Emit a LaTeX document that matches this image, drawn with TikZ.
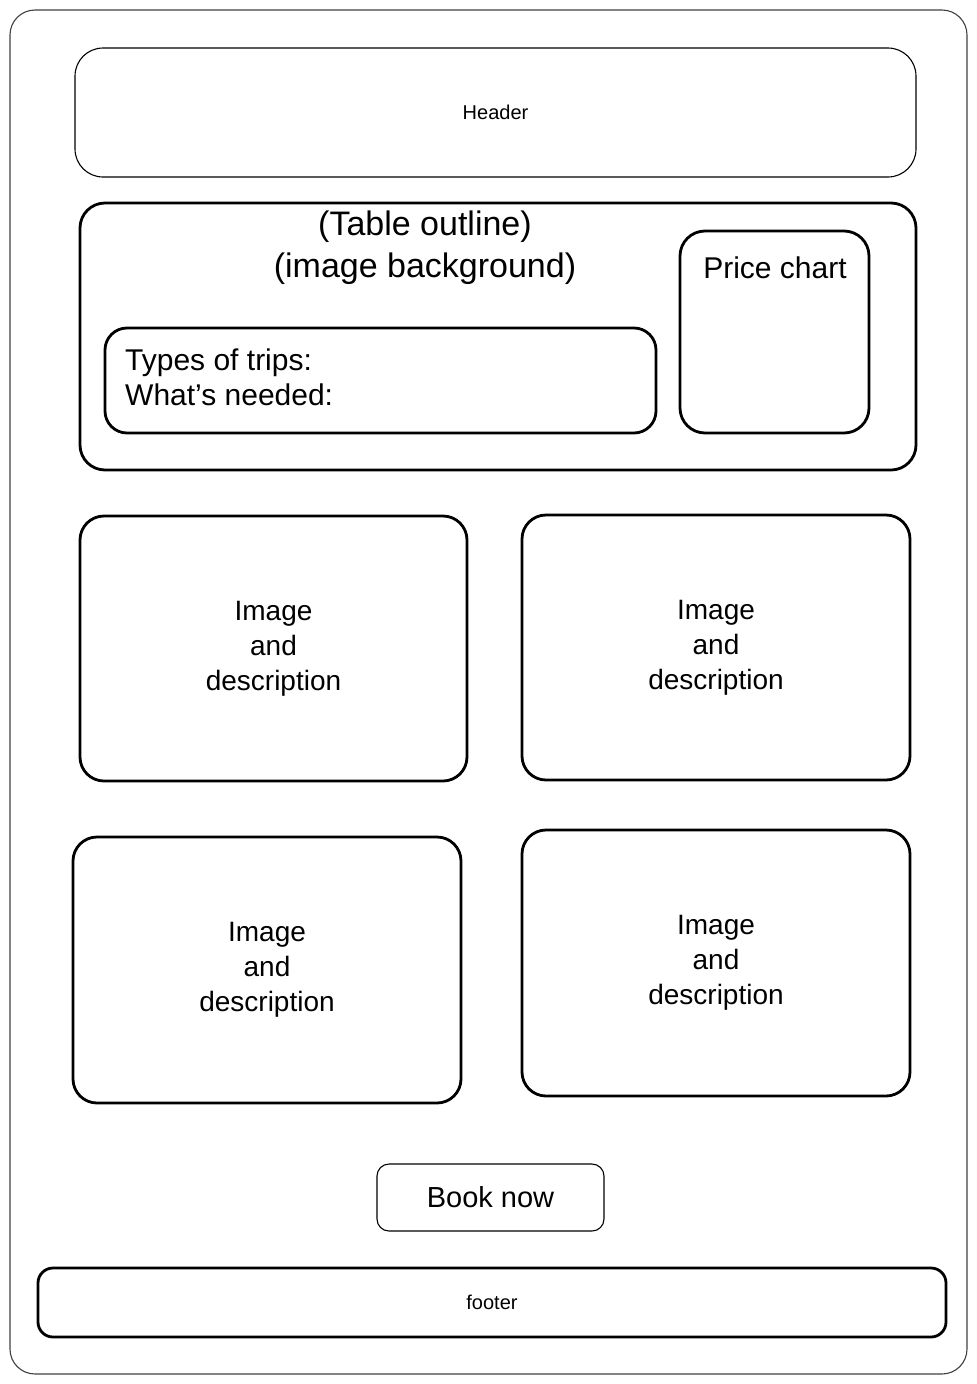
\documentclass[tikz,border=0pt]{standalone}
\usepackage{fontspec}
\setmainfont{Liberation Sans}
\usetikzlibrary{positioning}

\begin{document}
\begin{tikzpicture}[
    x=1pt, y=-1pt,
    thinbox/.style={rectangle, draw, line width=1.1pt, inner sep=0pt},
    thickbox/.style={rectangle, draw, line width=2.8pt, inner sep=0pt},
    card/.style={thickbox, minimum width=387pt, minimum height=265pt,
                 rounded corners=24pt, align=center,
                 font=\fontsize{28}{35}\selectfont},
    lbl/.style={inner sep=0pt, align=center}
]
\useasboundingbox (0,0) rectangle (977,1384);

% Page frame
\node[thinbox, draw=black!75, minimum width=957pt, minimum height=1364pt,
      rounded corners=25pt] (page) at (488.5,692) {};

% Header
\node[thinbox, minimum width=841pt, minimum height=129pt, rounded corners=28pt,
      font=\fontsize{20}{22}\selectfont] (header) at (495.5,112.5) {Header};

% Table outline
\node[thickbox, minimum width=836pt, minimum height=267pt, rounded corners=25pt] (table) at (498,336.5) {};
\node[lbl, font=\fontsize{34}{42}\selectfont] (tablelbl) at (425,248) {(Table outline)\\(image background)};

\node[thickbox, minimum width=551pt, minimum height=105pt, rounded corners=22pt] (types) at (380.5,380.5) {};
\node[lbl, anchor=west, align=left, font=\fontsize{30}{35}\selectfont] (typeslbl) at (125,377)
    {Types of trips:\\What's needed:};

\node[thickbox, minimum width=189pt, minimum height=202pt, rounded corners=25pt] (price) at (774.5,332) {};
\node[lbl, font=\fontsize{30}{32}\selectfont] (pricelbl) at (775,268) {Price chart};

% Cards
\node[card] (cardA) at (273.5,648.5) {Image\\and\\description};
\node[card, minimum width=388pt] (cardB) at (716,647.5) {Image\\and\\description};
\node[card, minimum width=388pt, minimum height=266pt] (cardC) at (267,970) {Image\\and\\description};
\node[card, minimum width=388pt, minimum height=266pt] (cardD) at (716,963) {Image\\and\\description};

% Button
\node[thinbox, minimum width=227pt, minimum height=67pt, rounded corners=12pt,
      font=\fontsize{29}{32}\selectfont] (book) at (490.5,1197.5) {Book now};

% Footer
\node[thickbox, minimum width=908pt, minimum height=69pt, rounded corners=15pt,
      font=\fontsize{20}{22}\selectfont] (footer) at (492,1302.5) {footer};
\end{tikzpicture}
\end{document}
